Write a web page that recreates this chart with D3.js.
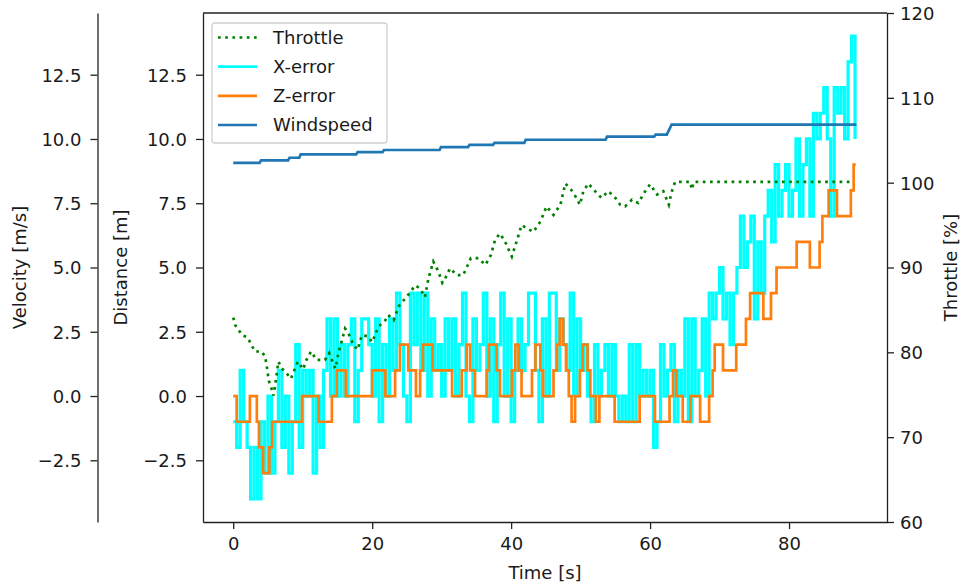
<!DOCTYPE html>
<html>
<head>
<meta charset="utf-8">
<script src="https://cdn.jsdelivr.net/npm/d3@7"></script>
<style>
  body { margin: 0; background: #fff; }
  text { font-family: "DejaVu Sans", sans-serif; fill: #1a1a1a; }
</style>
</head>
<body>
<div id="chart"></div>
<script>
var width = 962;
var height = 586;

// X-error sampled every 0.5 s (metres)
const xErrStep = 0.5;
const xErrValues = [
  -1, -2, 1, -1, -2, -4, -2, -4, -1, -3,
  0, -3, -1, 1, -2, 0, -3, -1, 2, -2,
  1, 0, 1, -3, 0, -2, 1, 3, 0, 3,
  0, 2, 0, 2, 3, -1, 1, 3, 3, 2,
  0, 3, -1, 2, 0, 3, 1, 4, 2, 0,
  -1, 4, 2, 4, 1, 4, 0, 3, 1, 2,
  0, 3, 1, 3, 0, 2, 4, 0, -1, 3,
  1, 2, 4, 0, 3, -1, 2, 4, 0, 3,
  -1, 1, 3, 1, 2, 4, 4, 1, -1, 3,
  0, 4, 4, 1, 3, 2, 1, 4, 0, 3,
  1, 2, 0, -1, 2, 0, 1, 2, 0, 2,
  0, -1, 0, -1, 2, -1, 2, 0, 1, 0,
  1, -2, -1, 2, 0, 1, 2, -1, 1, 0,
  3, -1, 3, 0, 1, 3, 0, 4, 3, 4,
  5, 3, 4, 2, 4, 5, 7, 5, 6, 7,
  3, 6, 4, 7, 8, 6, 9, 7, 8, 9,
  7, 8, 10, 7, 9, 10, 7, 11, 10, 11,
  12, 10, 7, 12, 11, 12, 10, 13, 14, 10
];

// Z-error: times where the value changes, and the new value
const zErrTimes = [0, 0.5, 2.4, 3.4, 3.7, 4.3, 5.2, 5.6, 9.9, 12.3, 14.2, 14.9, 16.2, 20.0, 21.9,
  23.3, 24.0, 25.2, 26.3, 26.9, 27.3, 28.7, 31.5, 32.9, 33.6, 34.1, 34.8, 36.5, 36.8, 37.9,
  38.4, 40.1, 40.6, 41.1, 41.5, 43.0, 43.5, 44.2, 44.6, 46.1, 46.6, 47.0, 47.5, 47.9, 48.3,
  48.7, 49.2, 49.9, 50.3, 51.0, 51.4, 52.2, 52.7, 54.9, 58.5, 60.7, 62.8, 63.3, 63.8, 64.7,
  65.8, 67.2, 68.5, 69.0, 69.3, 70.5, 72.4, 73.8, 74.4, 76.3, 77.4, 78.2, 81.1, 83.0, 84.4,
  84.8, 85.7, 86.9, 88.9, 89.3, 89.6];
const zErrValues = [0, -1, 0, -1, -2, -3, -2, -1, 0, -1, 0, 1, 0, 1, 0,
  1, 2, 1, 0, 1, 2, 1, 0, 1, 2, 1, 0, 1, 2, 1,
  0, 1, 2, 1, 0, 1, 2, 1, 0, 1, 2, 3, 2, 1, 0,
  -1, 0, 1, 2, 1, 0, -1, 0, -1, 0, -1, 0, 1, 0, -1,
  0, -1, 0, 1, 2, 1, 2, 3, 4, 3, 4, 5, 6, 5, 6,
  7, 8, 7, 8, 9, 9];

// Throttle [%]
const throttleTimes = [0, 0.3, 0.8, 1.3, 2.0, 2.5, 3.1, 4.1, 4.6, 4.9, 5.1, 5.6, 5.8, 6.1, 6.5,
  7.0, 7.7, 8.3, 8.9, 9.3, 10.1, 10.4, 11.2, 12.0, 13.2, 13.8, 14.2, 14.7, 15.2, 15.6,
  16.1, 16.6, 17.3, 17.9, 18.5, 19.4, 20.0, 20.9, 21.9, 22.3, 23.1, 23.8, 25.2, 26.2, 26.9,
  27.6, 28.1, 28.8, 29.5, 30.1, 30.5, 31.2, 32.2, 33.1, 34.2, 35.3, 36.3, 37.1, 37.7, 38.4,
  39.1, 39.6, 40.1, 40.8, 41.5, 42.3, 43.2, 44.2, 45.1, 46.1, 47.1, 47.8, 48.7, 49.4, 49.9,
  50.4, 51.1, 52.3, 53.0, 54.0, 55.0, 55.7, 56.4, 57.4, 58.3, 59.3, 60.0, 61.0, 61.9, 62.7,
  63.1, 63.6, 65.8, 66.0, 66.3, 89.0];
const throttleValues = [84.1, 83.2, 82.6, 82.0, 81.8, 81.1, 80.1, 80.1, 79.5, 78.0, 76.7, 75.5, 74.9, 76.5, 78.9,
  78.1, 77.5, 76.9, 78.1, 78.9, 78.0, 78.9, 80.1, 79.1, 79.1, 79.9, 79.1, 78.1, 80.1, 81.3,
  82.8, 82.2, 80.9, 80.3, 82.0, 81.9, 81.2, 83.0, 83.8, 84.4, 83.8, 85.4, 86.8, 87.9, 87.5,
  86.5, 88.7, 90.7, 89.6, 88.2, 88.7, 89.9, 89.1, 89.1, 91.1, 91.1, 90.3, 91.5, 93.3, 94.0,
  93.1, 92.2, 91.3, 93.1, 95.0, 94.6, 94.2, 95.4, 97.2, 96.2, 97.4, 99.9, 99.1, 98.2, 97.4,
  99.0, 99.9, 98.8, 98.2, 99.0, 98.2, 97.4, 97.2, 98.0, 97.6, 99.0, 99.8, 98.6, 99.0, 97.4,
  98.9, 100.1, 100.1, 99.2, 100.1, 100.1];

// Windspeed [m/s]
const windTimes = [0, 3.8, 4.0, 7.9, 8.1, 9.5, 9.7, 17.7, 17.9, 21.5, 21.7, 29.7, 29.9, 33.8, 34.0,
  37.4, 37.6, 41.9, 42.1, 53.6, 53.8, 60.6, 60.8, 62.4, 63.1, 89.7];
const windValues = [9.07, 9.07, 9.17, 9.17, 9.27, 9.27, 9.4, 9.4, 9.49, 9.49, 9.57, 9.57, 9.68, 9.68, 9.77,
  9.77, 9.85, 9.85, 9.97, 9.97, 10.09, 10.09, 10.17, 10.17, 10.56, 10.56];

const timeTicks = [0, 20, 40, 60, 80];
const distTicks = [-2.5, 0, 2.5, 5, 7.5, 10, 12.5];
const throttleTicks = [60, 70, 80, 90, 100, 110, 120];
const legendLabels = ["Throttle", "X-error", "Z-error", "Windspeed"];

const axLeft = 203, axRight = 887, axTop = 13, axBottom = 522;
const velAxisX = 97.5;

var x = d3.scaleLinear().domain([-4.35, 94.1]).range([axLeft, axRight]);
var yDist = d3.scaleLinear().domain([-4.9, 14.9]).range([axBottom, axTop]);
var yThr = d3.scaleLinear().domain([60, 120]).range([axBottom, axTop]);

var svg = d3.select("#chart").append("svg")
  .attr("width", width).attr("height", height)
  .style("background", "#fff");

var fmt = d3.format(".1f");

function styleAxis(g) {
  g.selectAll("path.domain").attr("stroke", "#222").attr("stroke-width", 1.3);
  g.selectAll(".tick line").attr("stroke", "#222").attr("stroke-width", 1.3);
  g.selectAll(".tick text").attr("font-size", 18).attr("font-family", "DejaVu Sans").attr("fill", "#1a1a1a");
}

// lines
var xErrData = xErrValues.map((v, i) => [i * xErrStep, v]);
var zErrData = zErrValues.map((v, i) => [zErrTimes[i], v]);
var thrData = throttleValues.map((v, i) => [throttleTimes[i], v]);
var windData = windValues.map((v, i) => [windTimes[i], v]);

var plot = svg.append("g");

plot.append("path").datum(xErrData)
  .attr("fill", "none").attr("stroke", "#00ffff").attr("stroke-width", 3.2)
  .attr("d", d3.line().curve(d3.curveStepAfter).x(d => x(d[0])).y(d => yDist(d[1])));

plot.append("path").datum(zErrData)
  .attr("fill", "none").attr("stroke", "#ff7f0e").attr("stroke-width", 2.7)
  .attr("d", d3.line().curve(d3.curveStepAfter).x(d => x(d[0])).y(d => yDist(d[1])));

plot.append("path").datum(windData)
  .attr("fill", "none").attr("stroke", "#1f77b4").attr("stroke-width", 2.7)
  .attr("d", d3.line().x(d => x(d[0])).y(d => yDist(d[1])));

plot.append("path").datum(thrData)
  .attr("fill", "none").attr("stroke", "#008000").attr("stroke-width", 2.7)
  .attr("stroke-dasharray", "2.7,4.5")
  .attr("d", d3.line().x(d => x(d[0])).y(d => yThr(d[1])));

// axes box
svg.append("line").attr("x1", axLeft).attr("x2", axRight).attr("y1", axTop).attr("y2", axTop)
  .attr("stroke", "#222").attr("stroke-width", 1.3);

var gx = svg.append("g").attr("transform", `translate(0,${axBottom})`)
  .call(d3.axisBottom(x).tickValues(timeTicks).tickSize(7).tickSizeOuter(0).tickPadding(8));
gx.call(styleAxis);

var gDist = svg.append("g").attr("transform", `translate(${axLeft},0)`)
  .call(d3.axisLeft(yDist).tickValues(distTicks).tickFormat(fmt).tickSize(7).tickSizeOuter(0).tickPadding(9));
gDist.call(styleAxis);
gDist.selectAll(".tick text").attr("dy", "0.36em");

var gVel = svg.append("g").attr("transform", `translate(${velAxisX},0)`)
  .call(d3.axisLeft(yDist).tickValues(distTicks).tickFormat(fmt).tickSize(7).tickSizeOuter(0).tickPadding(9));
gVel.call(styleAxis);
gVel.selectAll(".tick text").attr("dy", "0.36em");

var gThr = svg.append("g").attr("transform", `translate(${axRight},0)`)
  .call(d3.axisRight(yThr).tickValues(throttleTicks).tickSize(7).tickSizeOuter(0).tickPadding(6));
gThr.call(styleAxis);
gThr.selectAll(".tick text").attr("dy", "0.36em");

// axis labels
var midY = (axTop + axBottom) / 2;
svg.append("text").attr("x", (axLeft + axRight) / 2).attr("y", 579)
  .attr("text-anchor", "middle").attr("font-size", 18).text("Time [s]");
svg.append("text").attr("transform", `translate(127,${midY}) rotate(-90)`)
  .attr("text-anchor", "middle").attr("font-size", 18).text("Distance [m]");
svg.append("text").attr("transform", `translate(26,${midY}) rotate(-90)`)
  .attr("text-anchor", "middle").attr("font-size", 18).text("Velocity [m/s]");
svg.append("text").attr("transform", `translate(957,${midY}) rotate(-90)`)
  .attr("text-anchor", "middle").attr("font-size", 18).text("Throttle [%]");

// legend
var legend = svg.append("g");
legend.append("rect").attr("x", 212).attr("y", 23).attr("width", 175).attr("height", 120)
  .attr("rx", 3).attr("fill", "#fff").attr("fill-opacity", 0.8)
  .attr("stroke", "#d0d0d0").attr("stroke-width", 1.3);

var legendColors = ["#008000", "#00ffff", "#ff7f0e", "#1f77b4"];
var legendY = d3.scalePoint().domain(legendLabels).range([37.5, 125]);

var items = legend.selectAll(".item").data(legendLabels).join("g")
  .attr("class", "item")
  .attr("transform", d => `translate(0,${legendY(d)})`);
items.append("line").attr("x1", 218).attr("x2", 257).attr("y1", 0).attr("y2", 0)
  .attr("stroke", (d, i) => legendColors[i]).attr("stroke-width", 2.7)
  .attr("stroke-dasharray", (d, i) => i == 0 ? "2.7,4.5" : null);
items.append("text").attr("x", 273).attr("dy", "0.36em").attr("font-size", 18).text(d => d);
</script>
</body>
</html>
